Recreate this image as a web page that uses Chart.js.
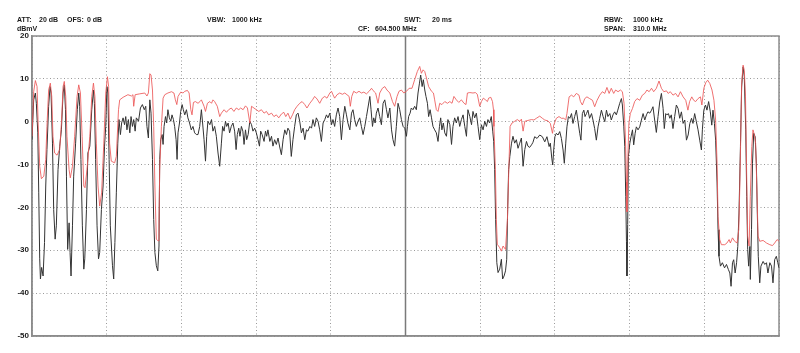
<!DOCTYPE html>
<html>
<head>
<meta charset="utf-8">
<script src="https://cdn.jsdelivr.net/npm/chart.js@4.4.1/dist/chart.umd.min.js"></script>
<style>
    html, body { margin: 0; padding: 0; background: #fff; }
    #wrap { width: 800px; height: 353px; position: relative; }
</style>
</head>
<body>
<div id="wrap"><canvas id="spectrum"></canvas></div>
<script>
// analyzer settings
const centerFreq = 604.5;   // MHz
const spanMHz = 310.0;
const startFreq = centerFreq - spanMHz / 2;
const stopFreq = centerFreq + spanMHz / 2;
const refLevel = 20;        // dBmV
const bottomLevel = -50;
const levelTicks = [20, 10, 0, -10, -20, -30, -40, -50];

// max hold trace (red) - MHz / dBmV
const maxHoldFreq = [
    449.5, 450.2, 450.9, 451.6, 452.0, 452.7, 453.4, 454.4, 455.2, 455.7,
    456.4, 457.1, 457.7, 458.2, 458.9, 459.9, 461.0, 461.8, 462.4, 462.9,
    463.5, 464.0, 464.9, 465.4, 466.3, 467.2, 468.2, 468.9, 469.6, 470.3,
    471.0, 471.5, 472.3, 473.5, 474.3, 475.0, 475.6, 476.2, 476.9, 477.6,
    478.4, 479.3, 480.1, 480.8, 481.3, 481.7, 482.4, 483.8, 484.5, 485.4,
    485.9, 487.3, 489.3, 490.8, 491.4, 491.7, 492.3, 494.2, 496.3, 497.2,
    497.8, 498.4, 498.9, 499.5, 500.0, 500.5, 501.1, 501.8, 502.2, 502.5,
    503.2, 503.9, 504.6, 505.9, 507.4, 508.4, 509.0, 509.6, 510.1, 511.2,
    512.2, 512.9, 514.0, 514.7, 515.4, 515.9, 516.5, 517.3, 518.4, 519.2,
    519.8, 520.9, 521.5, 522.3, 523.3, 524.0, 524.6, 525.3, 526.4, 527.4,
    528.1, 529.2, 530.2, 531.1, 532.2, 533.3, 534.3, 535.3, 536.1, 537.1,
    538.1, 538.9, 539.9, 540.6, 541.6, 542.6, 543.6, 544.7, 545.8, 546.8,
    547.7, 548.9, 549.9, 550.9, 551.9, 553.0, 554.0, 554.8, 555.7, 556.7,
    557.6, 558.5, 559.5, 560.6, 561.6, 562.7, 563.6, 564.8, 565.9, 566.8,
    567.8, 568.9, 570.0, 571.0, 571.9, 573.1, 573.8, 574.4, 575.1, 576.1,
    577.2, 578.3, 579.3, 580.2, 581.1, 581.6, 582.2, 583.0, 584.1, 585.2,
    586.2, 587.2, 588.3, 589.4, 590.4, 591.0, 592.1, 593.1, 593.8, 594.9,
    595.9, 596.8, 598.0, 599.1, 600.0, 601.0, 601.8, 602.8, 603.8, 604.9,
    606.0, 607.2, 608.3, 609.4, 610.4, 611.1, 611.8, 612.5, 613.2, 614.1,
    615.3, 616.1, 616.6, 617.3, 618.0, 618.7, 619.6, 620.8, 621.9, 622.9,
    623.8, 624.6, 625.6, 626.6, 627.7, 628.8, 629.6, 630.2, 631.2, 632.5,
    633.5, 634.3, 635.3, 636.0, 636.8, 637.7, 638.5, 639.0, 639.9, 640.6,
    641.0, 641.2, 641.8, 642.2, 642.6, 643.6, 644.3, 645.0, 646.0, 646.8,
    647.3, 647.9, 648.7, 649.8, 650.9, 651.9, 652.6, 653.3, 654.0, 655.3,
    656.8, 657.8, 658.8, 660.2, 661.3, 662.3, 663.6, 664.6, 665.5, 666.0,
    667.1, 668.2, 669.2, 670.2, 671.0, 671.5, 672.4, 673.4, 674.3, 675.4,
    676.5, 677.1, 677.9, 678.9, 679.8, 680.9, 682.1, 683.0, 684.0, 685.1,
    686.2, 687.2, 688.1, 689.0, 689.9, 690.9, 691.7, 692.7, 693.7, 694.5,
    695.2, 695.8, 696.2, 696.4, 696.8, 697.2, 697.8, 698.7, 699.6, 700.6,
    701.7, 702.8, 703.8, 704.7, 705.6, 706.6, 707.5, 708.6, 709.7, 710.7,
    711.7, 712.8, 713.5, 714.4, 715.5, 716.6, 717.6, 718.6, 719.7, 720.8,
    721.7, 722.4, 723.3, 724.1, 724.9, 725.9, 726.9, 727.5, 728.3, 729.1,
    729.9, 730.8, 731.7, 732.5, 733.2, 733.8, 734.2, 734.9, 735.6, 737.0,
    737.9, 738.8, 739.3, 740.2, 741.1, 742.1, 742.8, 743.2, 743.6, 744.0,
    744.6, 745.1, 745.6, 746.0, 746.5, 747.1, 747.6, 748.2, 748.7, 749.3,
    749.8, 750.4, 750.8, 751.5, 752.9, 754.3, 755.7, 756.8, 757.7, 758.7,
    759.5
];
const maxHoldLevel = [
    -3.4, 7, 9.6, 8.2, 0.5, -10.4, -13.3, -12.7, -8.8, -1.1,
    7.4, 9, 5.9, -3.4, -7.3, -7.8, -6.5, 0.5, 8.2, 9.4,
    5.9, -3.4, -11.2, -13.1, -10.4, -3.4, 5.9, 8.6, 6.7, -3.4,
    -15, -15.4, -11.2, -3.4, 5.9, 9, 5.9, -5, -15, -19.7,
    -16.6, -5, 6.7, 10.5, 8.2, -5, -9.2, -9.6, -8.1, 2.8,
    5.1, 5.7, 6.3, 6, 6.3, 3.6, 6.3, 6.5, 6.7, 6,
    6.7, 11.2, 10.9, 7.4, -1.1, -15, -27.4, -27.8, -22.8, -11.2,
    -1.1, 5.5, 6.3, 6.7, 7, 6.7, 5.1, 4, 5.9, 6.9,
    6.7, 7.1, 7.3, 6.7, 2.8, 1.6, 4.5, 4.7, 4.3, 4.7,
    5.1, 3.6, 2.4, 4.3, 4.7, 4.3, 5.1, 4.7, 3.6, 1.2,
    2, 2.8, 2.2, 2.8, 3.2, 2.4, 3.2, 2.8, 3.2, 2.8,
    3.7, 3.2, -0.3, 3.6, 3.2, 2.8, 2.4, 2.8, 2, 2.4,
    1.6, 2, 1.2, 1.6, 0.9, 1.8, 2.2, 1.2, 2, 0.6,
    1.6, 2.8, 3.6, 4.3, 4.7, 4, 3.2, 4.3, 5.1, 5.9,
    5.3, 4.3, 5.5, 5.9, 5.5, 6.7, 7.1, 6.3, 5.5, 6.3,
    6.7, 6.4, 6.7, 6.3, 5.9, 3.6, 5.9, 7.1, 6.7, 7.1,
    6.7, 6.9, 6.5, 7.1, 7.8, 7.3, 6.7, 4.3, 6.7, 7.8,
    8.2, 7.4, 6.7, 4.7, 3.6, 5.9, 7.1, 7.4, 6.7, 7.1,
    7.8, 7.8, 9.8, 11.7, 12.9, 11.3, 12.1, 11.7, 10.2, 8.2,
    7.1, 6.7, 5.1, 2.8, 2.4, 4.3, 4, 4.7, 4.3, 4.7,
    4.3, 5.9, 5.1, 4.5, 5.1, 4.3, 4, 6.7, 6.8, 6.7,
    6.8, 6.4, 3.6, 4.7, 5.5, 5.1, 4.7, 5.5, 5.7, 4.7,
    2.8, -1.1, -11.2, -22.8, -28.6, -29.4, -30.2, -29, -29.8, -22.8,
    -12.7, -1.1, -0.3, 0.1, 0.5, 0.1, 0.6, -2.2, 0.1, 0.3,
    0.5, 0.4, 0.8, 1.3, 0.8, 0.4, 0.2, -0.4, -2.7, -0.8,
    0.8, 1.2, 0.8, 0.8, 0.4, 1.9, 5.8, 6.2, 5.8, 6.6,
    6.2, 4.7, 3.9, 5.4, 5.8, 5.4, 5, 3.5, 5, 6.2,
    7, 6.6, 8, 6.6, 7.8, 6.6, 7.4, 7, 7.4, 7,
    4.3, -4.3, -14, -21, -8.1, -0.4, 1.9, 3.1, 4.7, 5.4,
    5, 6.2, 6.6, 7.4, 7, 7.8, 7, 7.8, 9.5, 7.8,
    7, 7.2, 6.6, 7, 6.2, 6.6, 5.8, 7, 5.8, 5,
    2.7, 4.7, 5.8, 5, 4.7, 5.4, 5.8, 3.9, 7.8, 9.1,
    9.7, 8.9, 7.4, 5, 0.4, -9.7, -22.1, -27.5, -28.7, -28.7,
    -28.3, -27.5, -28.3, -27.1, -27.9, -28.3, -25.2, -15.9, -4.3, 8.9,
    13.2, 12, 5.8, -9.7, -26.7, -29, -17.4, -5.8, -1.9, -3.1,
    -5, -17.4, -26.7, -27.9, -27.7, -28.3, -28.7, -28.9, -28.3, -27.5,
    -27.9
];

// clear/write trace (black) - MHz / dBmV
const clearWriteFreq = [
    449.5, 450.2, 450.9, 451.3, 451.9, 452.3, 452.7, 453.0, 453.5, 454.1,
    454.7, 455.2, 455.7, 456.4, 457.0, 457.4, 458.0, 458.5, 459.1, 459.6,
    460.3, 461.0, 461.7, 462.4, 462.9, 463.4, 463.8, 464.3, 464.9, 465.3,
    465.7, 466.3, 466.8, 467.6, 468.3, 468.9, 469.3, 469.8, 470.4, 471.0,
    471.4, 472.1, 472.7, 473.5, 474.3, 475.0, 475.4, 475.9, 476.5, 477.1,
    477.6, 478.3, 479.0, 479.6, 480.1, 480.6, 481.0, 481.5, 482.0, 482.9,
    483.4, 483.9, 484.5, 485.1, 485.6, 486.2, 486.7, 487.3, 487.9, 488.4,
    488.9, 489.5, 490.1, 490.6, 491.2, 491.7, 492.3, 492.8, 493.7, 494.5,
    495.3, 496.1, 496.7, 497.2, 497.8, 498.4, 498.9, 499.5, 500.0, 500.5,
    501.1, 501.7, 502.2, 502.5, 502.9, 503.5, 503.9, 504.3, 504.9, 505.4,
    505.9, 506.5, 507.1, 507.6, 508.2, 508.7, 509.3, 509.7, 510.1, 510.7,
    511.2, 511.8, 512.3, 512.9, 513.6, 514.2, 514.9, 515.6, 516.3, 517.0,
    517.7, 518.4, 519.1, 519.8, 520.3, 520.9, 521.5, 522.0, 522.5, 523.3,
    524.0, 524.6, 525.3, 526.0, 526.7, 527.4, 528.1, 528.6, 529.2, 529.8,
    530.3, 530.9, 531.5, 532.2, 532.9, 533.6, 534.2, 534.7, 535.3, 535.8,
    536.4, 537.0, 537.5, 538.1, 538.6, 539.2, 539.9, 540.6, 541.2, 541.9,
    542.6, 543.3, 543.9, 544.4, 545.0, 545.8, 546.4, 546.9, 547.4, 548.2,
    548.9, 549.5, 550.2, 550.9, 551.6, 552.3, 553.0, 553.7, 554.4, 555.1,
    555.7, 556.4, 557.1, 557.8, 558.5, 559.2, 559.9, 560.6, 561.3, 562.0,
    562.7, 563.4, 564.0, 564.8, 565.5, 566.1, 566.8, 567.5, 568.2, 568.9,
    569.6, 570.3, 571.0, 571.7, 572.3, 573.1, 573.8, 574.4, 575.1, 575.8,
    576.5, 577.2, 577.9, 578.6, 579.3, 580.0, 580.6, 581.4, 582.1, 582.7,
    583.4, 584.1, 584.8, 585.5, 586.2, 586.9, 587.6, 588.3, 588.9, 589.7,
    590.2, 590.8, 591.3, 591.9, 592.4, 593.1, 593.8, 594.5, 595.2, 595.9,
    596.6, 597.2, 598.0, 598.7, 599.3, 600.0, 600.7, 601.4, 602.1, 602.8,
    603.5, 604.2, 604.9, 605.3, 605.8, 606.4, 606.9, 607.6, 608.3, 609.0,
    609.7, 610.3, 610.8, 611.4, 611.9, 612.5, 613.0, 613.6, 614.1, 614.7,
    615.3, 615.9, 616.6, 617.3, 618.0, 618.6, 619.1, 619.6, 620.2, 620.8,
    621.5, 622.1, 622.9, 623.6, 624.2, 624.9, 625.6, 626.3, 627.0, 627.7,
    628.4, 629.1, 629.8, 630.4, 631.2, 631.9, 632.5, 633.2, 633.9, 634.6,
    635.3, 636.0, 636.7, 637.4, 638.1, 638.7, 639.4, 640.1, 640.7, 641.1,
    641.5, 641.9, 642.4, 642.9, 643.6, 644.3, 644.8, 645.4, 646.0, 646.5,
    646.9, 647.3, 647.8, 648.5, 649.1, 649.8, 650.5, 651.2, 651.9, 652.6,
    653.3, 654.0, 654.7, 655.3, 656.0, 656.8, 657.4, 658.1, 659.1, 660.2,
    661.3, 662.3, 663.2, 664.1, 664.6, 665.2, 665.6, 666.0, 666.5, 667.1,
    667.8, 668.5, 669.2, 669.9, 670.4, 671.0, 671.5, 672.1, 672.7, 673.4,
    674.0, 674.7, 675.4, 676.1, 676.8, 677.3, 677.9, 678.5, 679.0, 679.6,
    680.2, 680.9, 681.7, 682.3, 683.0, 683.7, 684.4, 685.1, 685.8, 686.5,
    687.2, 687.9, 688.5, 689.3, 689.9, 690.6, 691.3, 692.0, 692.6, 693.4,
    694.1, 694.5, 695.1, 695.5, 695.9, 696.2, 696.4, 696.7, 697.0, 697.6,
    698.1, 698.7, 699.2, 699.8, 700.3, 701.0, 701.7, 702.4, 703.1, 703.8,
    704.5, 705.1, 705.9, 706.6, 707.2, 707.9, 708.6, 709.3, 710.0, 710.7,
    711.4, 711.9, 712.5, 713.0, 713.6, 714.2, 714.8, 715.5, 716.2, 716.9,
    717.6, 718.3, 719.0, 719.7, 720.4, 721.1, 721.8, 722.5, 723.2, 723.8,
    724.5, 725.2, 725.9, 726.6, 727.3, 727.7, 728.3, 729.0, 729.6, 730.3,
    731.0, 731.6, 732.1, 732.7, 733.2, 733.8, 734.2, 734.6, 735.2, 736.0,
    736.9, 737.7, 738.5, 739.1, 739.6, 740.2, 740.7, 741.3, 741.9, 742.4,
    742.9, 743.5, 744.0, 744.6, 745.1, 745.7, 746.1, 746.5, 746.9, 747.4,
    747.6, 748.1, 748.5, 749.0, 749.6, 750.1, 750.5, 750.9, 751.5, 752.0,
    752.9, 753.6, 754.3, 754.9, 755.7, 756.4, 757.0, 757.7, 758.4, 759.0,
    759.5
];
const clearWriteLevel = [
    -4.2, 5.1, 6.7, 4.3, -2.6, -16.6, -32, -36.7, -34, -36,
    -28.2, -15, -6.5, 3.6, 8.2, 6.7, -5, -20.5, -27.4, -24.3,
    -11.2, -5.7, -1.9, 6.7, 8.6, 2.8, -12.7, -29.8, -23.6, -30.5,
    -36, -24.3, -12.7, -5, 2.8, 6.7, 3.6, -8.8, -24.3, -34.4,
    -32, -20.5, -7.3, -5.7, 2.8, 7.4, 4.3, -8.8, -24.3, -32,
    -30.5, -20.5, -15, -5.7, -1.1, 8.2, 6.7, -8.8, -24.3, -33.6,
    -36.7, -28.2, -16.6, -5, 0.5, -3, -0.3, 0.9, -0.7, 1.2,
    -1.9, 0.5, -2.6, 1.2, -1.1, 0.5, -2.2, 0.9, 0.1, 3.2,
    4, 2.8, 3.6, -1.1, -3.8, 5.1, 2, -8.8, -22.8, -30.5,
    -33.6, -34.8, -29, -8.8, -4.2, -3, -5.3, -1.1, 1.2, -0.3,
    2.8, 0.9, 0.1, 1.6, 0.5, -1.1, -4.2, -8.8, -2.6, -0.3,
    2.4, 4, 2.8, 1.6, 2.8, 0.9, -0.3, -1.9, -1.1, -2.6,
    -3, -3, -1.1, 2.8, -0.3, -4.2, -9.2, -3.4, 0.1, -0.7,
    0.5, -2.2, -1.1, -3.4, -7.3, -10.4, -5, -1.1, -2.2, 0.1,
    -1.1, -0.3, -2.6, -1.1, -0.3, -2.2, -6.5, -3, -1.5, -3.4,
    -1.1, -2.2, -5.3, -1.9, -4.2, -3, 0.1, -0.7, -2.2, -1.5,
    -2.6, -4.2, -5.7, -2.2, -3, -4.6, -2.2, -3.4, -1.9, -4.6,
    -3.4, -5.7, -4.2, -5.3, -3.8, -5.9, -7.7, -4.2, -1.9, -3,
    -1.5, -2.2, -8.1, -4.2, -1.1, 1.6, 2, 0.1, -2.6, -1.5,
    -4.2, -1.9, -2.2, -1.1, -1.5, 0.5, -1.1, 0.9, 0.1, -1.9,
    -4.6, -0.3, 0.5, 1.6, 0.9, 2, -0.7, 0.5, -1.1, 1.6,
    3.2, 1.2, -4.2, 0.5, 3.6, 1.6, -0.3, -1.9, 2, 2.8,
    0.5, -1.1, 0.1, 0.9, -1.1, -3, -1.1, 1.2, 3.2, 5.9,
    2.8, -1.1, 0.9, -0.3, 2, 3.2, 1.2, -0.7, 4.3, 5.1,
    2.8, 0.9, 3.2, -1.9, -4.2, -5.7, -1.1, 4.3, 2.8, 0.5,
    -1.1, -1.5, -3.4, -1.1, 1.2, 2, 3.2, 2.8, 3.6, 2.8,
    6.7, 9, 10.9, 8.2, 9.8, 7.4, 5.9, 4.3, 1.2, 2.8,
    0.9, -1.1, -1.9, -2.6, -4.6, -1.1, 0.9, -1.9, -0.3, -2.6,
    -3.4, 0.5, -0.7, -5.3, -1.1, 0.9, -0.3, 1.2, -1.1, 0.5,
    1.6, -1.1, -3.4, 2.8, 1.2, -0.7, 2.4, 0.9, 2, -1.1,
    -4.2, -0.7, -1.9, 0.1, -1.1, 0.5, -0.3, 1.2, -2.2, -4.6,
    -11.2, -22.8, -32.9, -35.2, -34.4, -32.1, -36.7, -36, -34.8, -32.1,
    -20.5, -11.2, -8.1, -5, -3.4, -5, -4.2, -6.2, -5, -3.8,
    -10.4, -6.5, -4.6, -5.7, -6, -5.4, -4.8, -3.5, -3.9, -3.1,
    -3.5, -4.7, -3.5, -5.8, -5, -8.5, -10.1, -6.6, -3.5, -2.7,
    -3.1, -2.3, -3.9, -6.6, -9.7, -5, -1.2, 1.2, 0.8, 1.9,
    -0.4, 1.2, 2.7, 0, -2.7, -4.3, 1.9, 2.7, 1.2, 1.9,
    2.7, 0.8, 1.9, 0.4, -1.6, -4.3, -1.2, 0.8, 2.7, 1.2,
    0, 2.7, 1.2, 1.9, 0.4, 1.6, 2.3, 1.6, 2.7, 4.3,
    5.4, 3.9, -1.2, -5.8, -17.4, -28, -36, -24, -8.1, -5,
    -3.5, -1.9, -5.4, -2.7, -1.2, -1.9, -1.2, 0.4, 1.9, 0.4,
    1.6, 2.3, 2, 2.7, 3.5, 0.4, -2.5, 1.2, 4.6, 6.6,
    3.1, -1.6, 1.9, 1.6, 1.9, 0.8, 1.6, -1.6, 1.2, 3.9,
    3.1, 0.8, 2.3, -0.4, 0.4, -4.3, -3.1, -0.4, 0.8, -0.4,
    1.9, 0, -1.9, -4.3, -6.6, -1.9, 2.7, 3.9, 2.7, 4.7,
    2.3, -0.8, 2.7, -0.4, -4.3, -14.3, -25.2, -31.4, -33.7, -32.9,
    -34.1, -33.3, -34.5, -35.3, -38.4, -32.9, -32.2, -35.3, -32.9, -29.1,
    -21.3, -5.8, 8.1, 12.8, 10.5, -1.9, -17.4, -29.8, -33.7, -29.1,
    -36.8, -25.2, -9.7, -2.7, -3.5, -9.7, -21.3, -31.4, -37.6, -33.7,
    -32.6, -33.3, -32.9, -35.3, -32.9, -33.7, -37.6, -32.2, -31.4, -32.9,
    -34.1
];

const toPoints = (freqs, levels) => freqs.map((f, i) => ({ x: f, y: levels[i] }));

const TEXT_FONT = '"Liberation Sans", Arial, sans-serif';

// header readout + frame box round the plot area
const analyzerFrame = {
    id: 'analyzerFrame',
    beforeDatasetsDraw(chart) {
        const { ctx, chartArea: a } = chart;
        ctx.save();
        ctx.strokeStyle = '#8c8c8c';
        ctx.lineWidth = 1.5;
        ctx.strokeRect(a.left, a.top, a.right - a.left, a.bottom - a.top);
        ctx.restore();
    },
    afterDraw(chart) {
        const ctx = chart.ctx;
        ctx.save();
        ctx.fillStyle = '#1a1a1a';
        ctx.font = 'bold 7px ' + TEXT_FONT;
        ctx.textBaseline = 'alphabetic';
        const rows = [
            ['ATT:', 17, 22], ['20 dB', 39, 22], ['OFS:', 67, 22], ['0 dB', 87, 22],
            ['VBW:', 207, 22], ['1000 kHz', 232, 22],
            ['SWT:', 404, 22], ['20 ms', 432, 22],
            ['RBW:', 604, 22], ['1000 kHz', 633, 22],
            ['dBmV', 17, 31],
            ['CF:', 358, 31], [centerFreq.toFixed(3) + ' MHz', 375, 31],
            ['SPAN:', 604, 31], [spanMHz.toFixed(1) + ' MHz', 633, 31]
        ];
        rows.forEach(([t, x, y]) => ctx.fillText(t, x, y));
        ctx.restore();
    }
};

new Chart(document.getElementById('spectrum'), {
    type: 'line',
    data: {
        datasets: [
            {
                label: 'Max Hold',
                data: toPoints(maxHoldFreq, maxHoldLevel),
                borderColor: 'rgba(236, 88, 88, 0.85)',
                borderWidth: 1,
                order: 0
            },
            {
                label: 'Clear/Write',
                data: toPoints(clearWriteFreq, clearWriteLevel),
                borderColor: '#333333',
                borderWidth: 1,
                order: 1
            },
            {
                label: 'CF',
                data: [{ x: centerFreq, y: bottomLevel }, { x: centerFreq, y: refLevel }],
                borderColor: '#7a7a7a',
                borderWidth: 1.5,
                order: 2
            }
        ]
    },
    options: {
        responsive: true,
        maintainAspectRatio: false,
        animation: false,
        devicePixelRatio: 1,
        layout: { padding: { top: 36, right: 21, bottom: 17, left: 0 } },
        elements: {
            line: { tension: 0, fill: false },
            point: { radius: 0, hoverRadius: 0 }
        },
        plugins: {
            legend: { display: false },
            tooltip: { enabled: false }
        },
        scales: {
            x: {
                type: 'linear',
                min: startFreq,
                max: stopFreq,
                ticks: { display: false, stepSize: spanMHz / 10 },
                grid: { color: '#9a9a9a', lineWidth: 1, drawTicks: false },
                border: { color: '#8c8c8c', width: 1.5, dash: [1, 2.5] }
            },
            y: {
                min: bottomLevel,
                max: refLevel,
                afterFit: (scale) => { scale.width = 32; },
                afterBuildTicks: (scale) => { scale.ticks = levelTicks.map(v => ({ value: v })); },
                ticks: {
                    color: '#1a1a1a',
                    padding: 3,
                    font: { size: 8, weight: 'bold', family: TEXT_FONT }
                },
                grid: { color: '#9a9a9a', lineWidth: 1, drawTicks: false },
                border: { color: '#8c8c8c', width: 1.5, dash: [1, 2.5] }
            }
        }
    },
    plugins: [analyzerFrame]
});
</script>
</body>
</html>
